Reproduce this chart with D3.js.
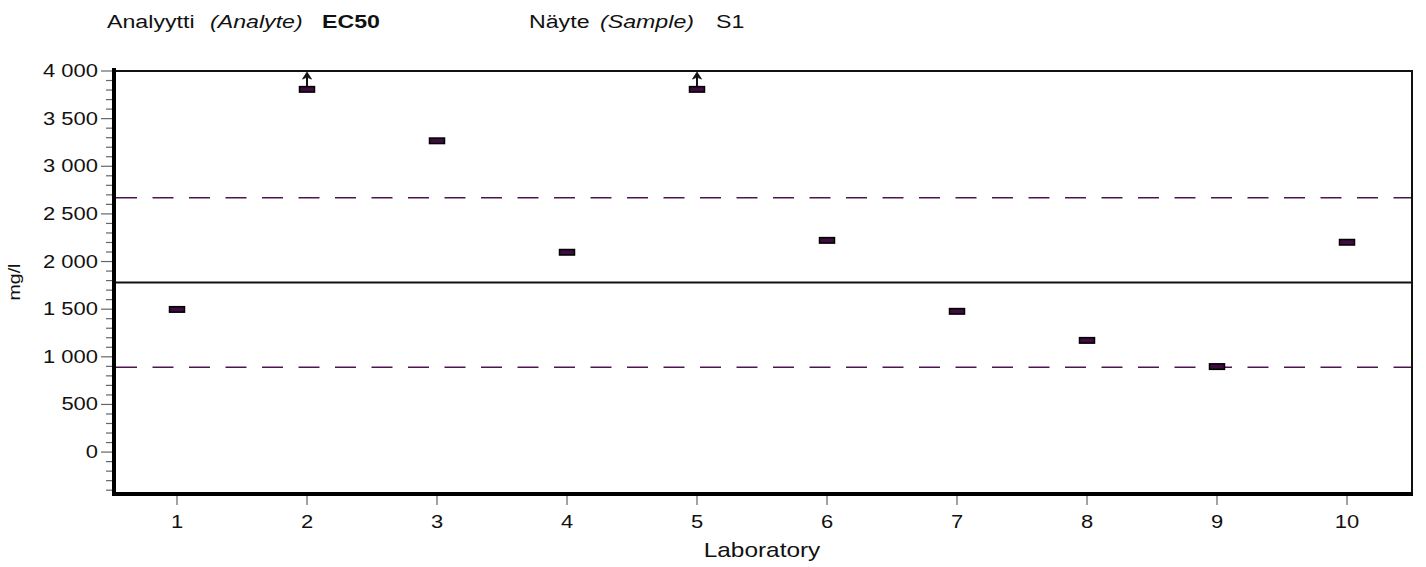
<!DOCTYPE html>
<meta charset="utf-8">

<style type="text/css">
  body {
    margin: 0;
    background: #fff;
    font-family: "Liberation Sans", Arial, sans-serif;
  }
</style>

<body>
  <script src="https://d3js.org/d3.v7.min.js"></script>

  <script>
    var w = 1426;
    var h = 567;

    // data
    var labs = [1, 2, 3, 4, 5, 6, 7, 8, 9, 10];
    var results = [1500, 4500, 3270, 2100, 4500, 2225, 1480, 1175, 900, 2205];
    var offScale = [false, true, false, false, true, false, false, false, false, false];
    var assigned = 1780;
    var limits = [890, 2670];
    var yTicks = [0, 500, 1000, 1500, 2000, 2500, 3000, 3500, 4000];
    var yTickLabels = ['0', '500', '1 000', '1 500', '2 000', '2 500', '3 000', '3 500', '4 000'];

    var sx = 1.22; // text in the picture is stretched sideways

    var x = d3.scaleLinear().domain([0.5, 10.5]).range([112, 1412]);
    var y = d3.scaleLinear().domain([-440, 4000]).range([494, 71]);
    var capValue = 3810;

    var svg = d3.select('body')
      .append('svg')
      .attr('width', w)
      .attr('height', h);

    function label(txt, px, py, size, anchor, style, weight) {
      return svg.append('text')
        .attr('transform', 'translate(' + px + ',' + py + ') scale(' + sx + ',1)')
        .attr('text-anchor', anchor || 'start')
        .attr('font-size', size)
        .attr('font-style', style || 'normal')
        .attr('font-weight', weight || 'normal')
        .attr('fill', '#111')
        .text(txt);
    }

    // header
    label('Analyytti', 107, 28, 19);
    label('(Analyte)', 210, 28, 19, 'start', 'italic');
    label('EC50', 322, 28, 19, 'start', 'normal', 'bold');
    label('Näyte', 529, 28, 19);
    label('(Sample)', 600, 28, 19, 'start', 'italic');
    label('S1', 716, 28, 19);

    // y minor + major ticks
    var minor = d3.range(-400, 4001, 100);
    svg.selectAll('.ytick')
      .data(minor)
      .enter()
      .append('line')
      .attr('x1', function(d) { return d % 500 == 0 ? 101 : 106; })
      .attr('x2', 112)
      .attr('y1', function(d) { return y(d); })
      .attr('y2', function(d) { return y(d); })
      .attr('stroke', '#666')
      .attr('stroke-width', 1.2);

    svg.selectAll('.ylab')
      .data(yTicks)
      .enter()
      .append('text')
      .attr('transform', function(d) { return 'translate(98,' + (y(d) + 6) + ') scale(' + sx + ',1)'; })
      .attr('text-anchor', 'end')
      .attr('font-size', 18)
      .attr('fill', '#111')
      .text(function(d, i) { return yTickLabels[i]; });

    // x ticks
    svg.selectAll('.xtick')
      .data(labs)
      .enter()
      .append('line')
      .attr('x1', function(d) { return x(d); })
      .attr('x2', function(d) { return x(d); })
      .attr('y1', 496)
      .attr('y2', 505)
      .attr('stroke', '#666')
      .attr('stroke-width', 1.2);

    svg.selectAll('.xlab')
      .data(labs)
      .enter()
      .append('text')
      .attr('transform', function(d) { return 'translate(' + x(d) + ',528) scale(' + sx + ',1)'; })
      .attr('text-anchor', 'middle')
      .attr('font-size', 18)
      .attr('fill', '#111')
      .text(function(d) { return d; });

    label('Laboratory', 762, 557, 20, 'middle');

    svg.append('text')
      .attr('transform', 'translate(20,282) rotate(-90) scale(' + sx + ',1)')
      .attr('text-anchor', 'middle')
      .attr('font-size', 16)
      .attr('fill', '#111')
      .text('mg/l');

    // reference lines
    svg.append('line')
      .attr('x1', 114).attr('x2', 1412)
      .attr('y1', y(assigned)).attr('y2', y(assigned))
      .attr('stroke', '#111').attr('stroke-width', 2);

    svg.selectAll('.lim')
      .data(limits)
      .enter()
      .append('line')
      .attr('x1', 116).attr('x2', 1412)
      .attr('y1', function(d) { return y(d); })
      .attr('y2', function(d) { return y(d); })
      .attr('stroke', '#4d1450')
      .attr('stroke-width', 1.6)
      .attr('stroke-dasharray', '21,15.5');

    // frame
    svg.append('line').attr('x1', 114).attr('x2', 1413).attr('y1', 71).attr('y2', 71)
      .attr('stroke', '#111').attr('stroke-width', 2);
    svg.append('line').attr('x1', 1412).attr('x2', 1412).attr('y1', 70).attr('y2', 496)
      .attr('stroke', '#111').attr('stroke-width', 2);
    svg.append('line').attr('x1', 114).attr('x2', 114).attr('y1', 68).attr('y2', 496)
      .attr('stroke', '#000').attr('stroke-width', 4);
    svg.append('line').attr('x1', 112).attr('x2', 1413).attr('y1', 494).attr('y2', 494)
      .attr('stroke', '#000').attr('stroke-width', 4);

    // markers
    var pts = labs.map(function(d, i) {
      return { lab: d, v: offScale[i] ? capValue : results[i], off: offScale[i] };
    });

    svg.selectAll('.mark')
      .data(pts)
      .enter()
      .append('rect')
      .attr('x', function(d) { return x(d.lab) - 7.5; })
      .attr('y', function(d) { return y(d.v) - 2.5; })
      .attr('width', 15)
      .attr('height', 5.5)
      .attr('fill', '#3e0c3e')
      .attr('stroke', '#000')
      .attr('stroke-width', 1.5);

    // arrows for results above the scale
    var arrows = svg.selectAll('.arrow')
      .data(pts.filter(function(d) { return d.off; }))
      .enter();

    arrows.append('line')
      .attr('x1', function(d) { return x(d.lab); })
      .attr('x2', function(d) { return x(d.lab); })
      .attr('y1', function(d) { return y(d.v) - 3; })
      .attr('y2', function(d) { return y(d.v) - 13; })
      .attr('stroke', '#111')
      .attr('stroke-width', 2);

    arrows.append('path')
      .attr('d', function(d) {
        var cx = x(d.lab), top = y(d.v) - 17;
        return 'M' + cx + ',' + top + 'L' + (cx + 4.5) + ',' + (top + 7) + 'L' + cx + ',' + (top + 5) + 'L' + (cx - 4.5) + ',' + (top + 7) + 'Z';
      })
      .attr('fill', '#111')
      .attr('stroke', '#111')
      .attr('stroke-width', 0.8);
  </script>
</body>
